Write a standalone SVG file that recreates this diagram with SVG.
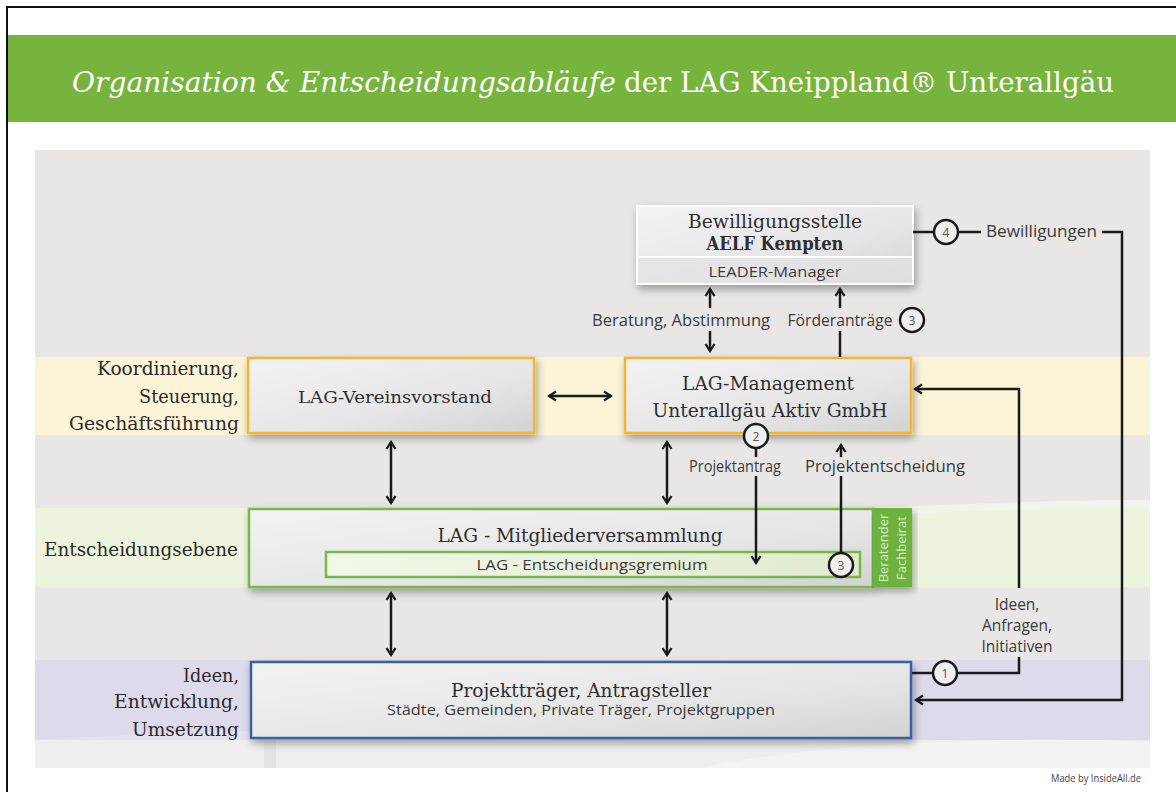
<svg xmlns="http://www.w3.org/2000/svg" width="1176" height="792" viewBox="0 0 1176 792">
<defs>
<style>
.serif{font-family:"DejaVu Serif","Liberation Serif",serif;fill:#2e2e2e}
.sans{font-family:"Open Sans","Liberation Sans",sans-serif;fill:#3a3a3a}
.conn{stroke:#1a1a1a;stroke-width:2.5;fill:none}
.circ{fill:#efefef;stroke:#1a1a1a;stroke-width:2.5}
.num{font-family:"Open Sans","Liberation Sans",sans-serif;font-size:12px;fill:#555;text-anchor:middle}
.box{fill:url(#boxg);filter:url(#sh)}
.lvl{font-family:"DejaVu Serif","Liberation Serif",serif;fill:#2a2a2a;font-size:18.5px;text-anchor:end}
</style>
<linearGradient id="boxg" x1="0" y1="0" x2="1" y2="1">
<stop offset="0" stop-color="#f3f3f4"/>
<stop offset="0.6" stop-color="#e6e6e7"/>
<stop offset="1" stop-color="#d2d2d2"/>
</linearGradient>
<linearGradient id="innerg" x1="0" y1="0" x2="1" y2="0">
<stop offset="0" stop-color="#f3f7e6"/>
<stop offset="1" stop-color="#e2ead0"/>
</linearGradient>
<filter id="sh" x="-10%" y="-20%" width="125%" height="150%">
<feGaussianBlur in="SourceAlpha" stdDeviation="4"/>
<feOffset dx="2" dy="4"/>
<feComponentTransfer><feFuncA type="linear" slope="0.35"/></feComponentTransfer>
<feMerge><feMergeNode/><feMergeNode in="SourceGraphic"/></feMerge>
</filter>
<marker id="ah" viewBox="0 0 12 12" refX="10" refY="6" markerWidth="12" markerHeight="12" markerUnits="userSpaceOnUse" orient="auto-start-reverse">
<path d="M3,1.5 L10,6 L3,10.5" fill="none" stroke="#1a1a1a" stroke-width="2.3"/>
</marker>
</defs>

<!-- page -->
<rect x="0" y="0" width="1176" height="792" fill="#ffffff"/>
<path d="M7,792 V7 H1176" fill="none" stroke="#111" stroke-width="2"/>

<!-- header -->
<g id="header">
<rect x="8" y="35" width="1168" height="87" fill="#77b43e"/>
<text x="72" y="92" font-family="DejaVu Serif, Liberation Serif, serif" font-style="italic" font-size="28" fill="#ffffff" textLength="544" lengthAdjust="spacingAndGlyphs">Organisation &amp; Entscheidungsabläufe</text>
<text x="624" y="92" font-family="DejaVu Serif, Liberation Serif, serif" font-size="28" fill="#ffffff" textLength="490" lengthAdjust="spacingAndGlyphs">der LAG Kneippland® Unterallgäu</text>
</g>

<!-- background panel and bands -->
<g id="background">
<rect x="35" y="150" width="1115" height="618" fill="#e8e7e6"/>
<rect x="35" y="357" width="1115" height="78" fill="#fcf4d7"/>
<path d="M35,508 H860 C960,505 1050,500 1150,500 V587 H35 Z" fill="#eef3de"/>
<path d="M860,508 C960,505 1050,500 1150,500 V507 C1050,507 960,512 860,516 Z" fill="#f3f3f2" opacity="0.8"/>
<rect x="35" y="660" width="1115" height="80" fill="#dcdaeb"/>
<path d="M35,740 C200,730 400,725 560,740 L35,740 Z" fill="#e4e2ee"/>
<rect x="35" y="740" width="1115" height="28" fill="#efeeee"/>
<path d="M700,768 C800,745 1000,735 1150,742 V768 Z" fill="#f3f3f3"/>
<rect x="264" y="738" width="12" height="30" fill="#e3e3e3"/>
</g>

<!-- level labels -->
<g id="labels">
<text class="lvl" x="239" y="375" textLength="142" lengthAdjust="spacingAndGlyphs">Koordinierung,</text>
<text class="lvl" x="239" y="403" textLength="100" lengthAdjust="spacingAndGlyphs">Steuerung,</text>
<text class="lvl" x="239" y="430" textLength="170" lengthAdjust="spacingAndGlyphs">Geschäftsführung</text>
<text class="lvl" x="238" y="556" textLength="194" lengthAdjust="spacingAndGlyphs">Entscheidungsebene</text>
<text class="lvl" x="239" y="682" textLength="56" lengthAdjust="spacingAndGlyphs">Ideen,</text>
<text class="lvl" x="239" y="708" textLength="125" lengthAdjust="spacingAndGlyphs">Entwicklung,</text>
<text class="lvl" x="239" y="736" textLength="107" lengthAdjust="spacingAndGlyphs">Umsetzung</text>
</g>

<!-- nodes -->
<g id="bewilligungsstelle">
<rect class="box" x="637" y="206" width="276" height="78" stroke="#ffffff" stroke-width="2"/>
<rect x="638" y="257" width="274" height="26" fill="#e3e3e4" opacity="0.7"/>
<line x1="638" y1="257" x2="912" y2="257" stroke="#ffffff" stroke-width="2"/>
<text class="serif" font-size="18" text-anchor="middle" x="775" y="228" textLength="174" lengthAdjust="spacingAndGlyphs">Bewilligungsstelle</text>
<text class="serif" font-size="18" font-weight="bold" text-anchor="middle" x="775" y="250" textLength="137" lengthAdjust="spacingAndGlyphs">AELF Kempten</text>
<text class="sans" font-size="15" text-anchor="middle" x="775" y="277" textLength="133" lengthAdjust="spacingAndGlyphs">LEADER-Manager</text>
</g>

<g id="vereinsvorstand">
<rect class="box" x="248" y="358" width="286" height="75" stroke="#f2b632" stroke-width="2.5"/>
<text class="serif" font-size="17" text-anchor="middle" x="395" y="403" textLength="194" lengthAdjust="spacingAndGlyphs">LAG-Vereinsvorstand</text>
</g>

<g id="management">
<rect class="box" x="625" y="358" width="286" height="75" stroke="#f2b632" stroke-width="2.5"/>
<text class="serif" font-size="18" text-anchor="middle" x="768" y="390" textLength="172" lengthAdjust="spacingAndGlyphs">LAG-Management</text>
<text class="serif" font-size="18" text-anchor="middle" x="770" y="417" textLength="235" lengthAdjust="spacingAndGlyphs">Unterallgäu Aktiv GmbH</text>
</g>

<g id="mitgliederversammlung">
<rect class="box" x="249" y="509" width="624" height="78" stroke="#7ab648" stroke-width="2.5"/>
<rect x="873" y="508" width="39" height="79" fill="#6cb23e" filter="url(#sh)"/>
<text class="serif" font-size="18" text-anchor="middle" x="580" y="542" textLength="285" lengthAdjust="spacingAndGlyphs">LAG - Mitgliederversammlung</text>
<text font-family="Open Sans, Liberation Sans, sans-serif" font-size="13" fill="#d6ecc2" text-anchor="middle" transform="translate(888,548) rotate(-90)">Beratender</text>
<text font-family="Open Sans, Liberation Sans, sans-serif" font-size="13" fill="#d6ecc2" text-anchor="middle" transform="translate(906,548) rotate(-90)">Fachbeirat</text>
</g>

<g id="entscheidungsgremium">
<rect x="326" y="552" width="534" height="25" fill="url(#innerg)" stroke="#7ab648" stroke-width="2.5"/>
<text class="sans" font-size="15" text-anchor="middle" x="592" y="570" textLength="231" lengthAdjust="spacingAndGlyphs">LAG - Entscheidungsgremium</text>
</g>

<g id="projekttraeger">
<rect class="box" x="251" y="662" width="660" height="76" stroke="#3b5fa5" stroke-width="2.5"/>
<text class="serif" font-size="18" text-anchor="middle" x="581" y="697" textLength="260" lengthAdjust="spacingAndGlyphs">Projektträger, Antragsteller</text>
<text class="sans" font-size="15" text-anchor="middle" x="581" y="715" textLength="388" lengthAdjust="spacingAndGlyphs">Städte, Gemeinden, Private Träger, Projektgruppen</text>
</g>

<!-- connectors -->
<g id="connectors">
<line class="conn" x1="549" y1="396" x2="611" y2="396" marker-start="url(#ah)" marker-end="url(#ah)"/>
<line class="conn" x1="391" y1="442" x2="391" y2="503" marker-start="url(#ah)" marker-end="url(#ah)"/>
<line class="conn" x1="667" y1="442" x2="667" y2="503" marker-start="url(#ah)" marker-end="url(#ah)"/>
<line class="conn" x1="391" y1="593" x2="391" y2="655" marker-start="url(#ah)" marker-end="url(#ah)"/>
<line class="conn" x1="667" y1="593" x2="667" y2="655" marker-start="url(#ah)" marker-end="url(#ah)"/>

<!-- Beratung, Abstimmung -->
<line class="conn" x1="710" y1="308" x2="710" y2="289" marker-end="url(#ah)"/>
<line class="conn" x1="710" y1="331" x2="710" y2="351" marker-end="url(#ah)"/>
<text class="sans" font-size="15.5" text-anchor="middle" x="681" y="326" textLength="178" lengthAdjust="spacingAndGlyphs">Beratung, Abstimmung</text>

<!-- Förderanträge -->
<line class="conn" x1="840" y1="357" x2="840" y2="331"/>
<line class="conn" x1="840" y1="308" x2="840" y2="289" marker-end="url(#ah)"/>
<text class="sans" font-size="15.5" text-anchor="middle" x="840" y="326" textLength="105" lengthAdjust="spacingAndGlyphs">Förderanträge</text>
<circle class="circ" cx="912" cy="320" r="12"/>
<text class="num" x="912" y="325">3</text>

<!-- Bewilligungen -->
<line class="conn" x1="913" y1="232" x2="934" y2="232"/>
<circle class="circ" cx="946" cy="232" r="12"/>
<text class="num" x="946" y="237">4</text>
<line class="conn" x1="958" y1="232" x2="981" y2="232"/>
<text class="sans" font-size="15.5" x="986" y="237" textLength="111" lengthAdjust="spacingAndGlyphs">Bewilligungen</text>
<path class="conn" d="M1102,232 H1122 V700 H916" marker-end="url(#ah)"/>

<!-- Ideen, Anfragen, Initiativen -->
<path class="conn" d="M1019,588 V389 H915" marker-end="url(#ah)"/>
<text class="sans" font-size="15.5" text-anchor="middle" x="1017" y="610">Ideen,</text>
<text class="sans" font-size="15.5" text-anchor="middle" x="1017" y="631">Anfragen,</text>
<text class="sans" font-size="15.5" text-anchor="middle" x="1017" y="652">Initiativen</text>
<path class="conn" d="M1019,657 V673 H957"/>
<circle class="circ" cx="945" cy="673" r="12"/>
<text class="num" x="945" y="678">1</text>
<line class="conn" x1="933" y1="673" x2="912" y2="673"/>

<!-- Projektantrag -->
<circle class="circ" cx="756" cy="436" r="12"/>
<text class="num" x="756" y="441">2</text>
<line class="conn" x1="756" y1="448" x2="756" y2="457"/>
<line class="conn" x1="756" y1="476" x2="756" y2="563" marker-end="url(#ah)"/>
<text class="sans" font-size="15.5" text-anchor="middle" x="735" y="472" textLength="92" lengthAdjust="spacingAndGlyphs">Projektantrag</text>

<!-- Projektentscheidung -->
<line class="conn" x1="841" y1="553" x2="841" y2="476"/>
<line class="conn" x1="841" y1="457" x2="841" y2="445" marker-end="url(#ah)"/>
<circle class="circ" cx="841" cy="565" r="12"/>
<text class="num" x="841" y="570">3</text>
<text class="sans" font-size="15.5" text-anchor="middle" x="885" y="472" textLength="160" lengthAdjust="spacingAndGlyphs">Projektentscheidung</text>
</g>

<text font-family="Open Sans, Liberation Sans, sans-serif" font-size="10" fill="#444" x="1051" y="782" textLength="90" lengthAdjust="spacingAndGlyphs">Made by InsideAll.de</text>
</svg>
